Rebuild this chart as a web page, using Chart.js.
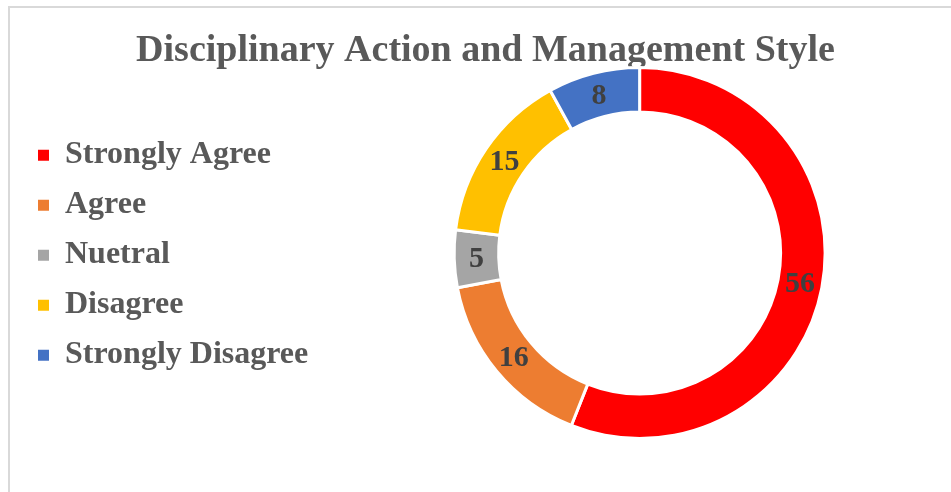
<!DOCTYPE html>
<html>
<head>
<meta charset="utf-8">
<script src="https://cdn.jsdelivr.net/npm/chart.js@4.4.1/dist/chart.umd.min.js"></script>
<style>
  html, body { margin: 0; padding: 0; background: #fff; overflow: hidden; }
  #frame {
    position: absolute; left: 8px; top: 6px; width: 960px; height: 500px;
    border-left: 2px solid #d9d9d9; border-top: 2px solid #d9d9d9;
  }
  #wrap { position: absolute; left: 0; top: 0; width: 951px; height: 492px; }
</style>
</head>
<body>
<div id="frame"></div>
<div id="wrap"><canvas id="chart" width="951" height="492"></canvas></div>
<script>
// ---- data ----
const categories = ['Strongly Agree', 'Agree', 'Nuetral', 'Disagree', 'Strongly Disagree'];
const responses  = [56, 16, 5, 15, 8];
const sliceColors = ['#ff0000', '#ed7d31', '#a5a5a5', '#ffc000', '#4472c4'];
const chartTitle = 'Disciplinary Action and Management Style';

const SERIF = "'Liberation Serif', 'Times New Roman', serif";

// value labels in the middle of each ring segment
const sliceLabels = {
  id: 'sliceLabels',
  afterDatasetsDraw(chart) {
    const ctx = chart.ctx;
    const meta = chart.getDatasetMeta(0);
    ctx.save();
    ctx.font = 'bold 30px ' + SERIF;
    ctx.fillStyle = '#404040';
    ctx.textAlign = 'center';
    ctx.textBaseline = 'middle';
    meta.data.forEach((arc, i) => {
      const p = arc.tooltipPosition();
      ctx.fillText(String(responses[i]), p.x, p.y + 1);
    });
    ctx.restore();
  }
};

// the legend column is a bit wider than its text, like the original
const widerLegend = {
  id: 'widerLegend',
  afterInit(chart) {
    const lg = chart.legend;
    if (!lg) return;
    const fit = lg.fit.bind(lg);
    lg.fit = function () { fit(); this.width += 10; };
  }
};

new Chart(document.getElementById('chart'), {
  type: 'doughnut',
  data: {
    labels: categories,
    datasets: [{
      data: responses,
      backgroundColor: sliceColors,
      borderColor: '#ffffff',
      borderWidth: 3,
    }]
  },
  options: {
    responsive: false,
    animation: false,
    cutout: '76%',
    layout: { padding: { left: 20, right: 0, top: 0, bottom: 52 } },
    plugins: {
      title: {
        display: true,
        text: chartTitle,
        color: '#595959',
        font: { family: SERIF, size: 38, weight: 'bold', lineHeight: 1 },
        padding: { top: 32, bottom: -4 }
      },
      legend: {
        position: 'left',
        title: { display: true, text: '', padding: { top: 56, bottom: 0 } },
        labels: {
          color: '#595959',
          font: { family: SERIF, size: 32, weight: 'bold' },
          boxWidth: 11,
          boxHeight: 11,
          padding: 18,
          generateLabels(chart) {
            return categories.map((c, i) => ({
              text: c,
              fillStyle: sliceColors[i],
              strokeStyle: sliceColors[i],
              lineWidth: 0,
              fontColor: '#595959',
              index: i,
              hidden: false
            }));
          }
        }
      },
      tooltip: { enabled: false }
    }
  },
  plugins: [sliceLabels, widerLegend]
});
</script>
</body>
</html>
